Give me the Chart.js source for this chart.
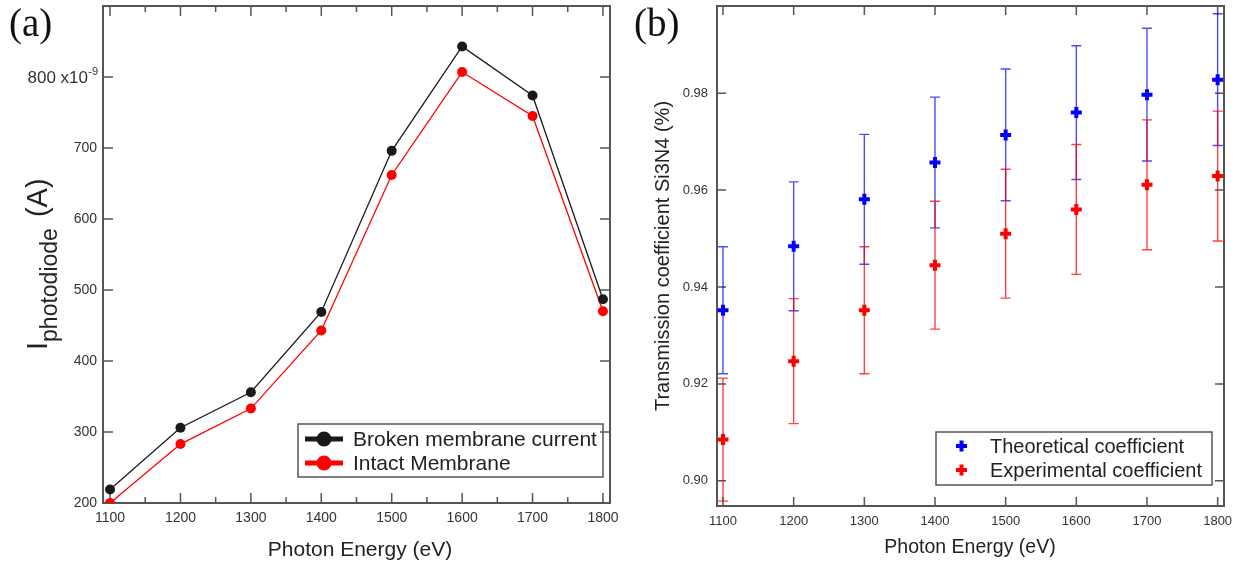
<!DOCTYPE html>
<html>
<head>
<meta charset="utf-8">
<title>Photodiode current and Si3N4 transmission</title>
<script src="https://cdn.jsdelivr.net/npm/chart.js@4.4.1/dist/chart.umd.min.js"></script>
<style>
  html, body { margin: 0; padding: 0; background: #fff; }
  #wrap { position: relative; width: 1239px; height: 566px; }
  .panel { position: absolute; top: 0; height: 566px; }
  #panelA { left: 0; width: 620px; }
  #panelB { left: 620px; width: 619px; }
</style>
</head>
<body>
<div id="wrap">
  <div class="panel" id="panelA"><canvas id="currentChart"></canvas></div>
  <div class="panel" id="panelB"><canvas id="transChart"></canvas></div>
</div>
<script>
// --- Data ---
const energies = [1100, 1200, 1300, 1400, 1500, 1600, 1700, 1800];
const energyTicks = [1100, 1200, 1300, 1400, 1500, 1600, 1700, 1800];
const energyMinorTicks = [1150, 1250, 1350, 1450, 1550, 1650, 1750];

// (a) photodiode current, in units of 1e-9 A
const brokenCurrent = [219, 306, 356, 469, 696, 843, 774, 487];
const intactCurrent = [200, 283, 333, 443, 662, 807, 745, 470];
const currentTicks = [200, 300, 400, 500, 600, 700, 800];
const currentExpTick = 800; // this tick carries the "x10-9" multiplier

// (b) transmission coefficient with error bars
const theoCoef = [0.9352, 0.9484, 0.9581, 0.9657, 0.9714, 0.9760, 0.9797, 0.9828];
const theoErr = [0.0131, 0.0133, 0.0134, 0.0135, 0.0136, 0.0138, 0.0137, 0.0136];
const expCoef = [0.9085, 0.9247, 0.9352, 0.9445, 0.9510, 0.9560, 0.9611, 0.9629];
const expErr = [0.0127, 0.0129, 0.0131, 0.0132, 0.0133, 0.0134, 0.0134, 0.0134];
const coefTicks = [0.90, 0.92, 0.94, 0.96, 0.98];

const SANS = "'Liberation Sans', Arial, sans-serif";
const SERIF = "'Liberation Serif', 'Times New Roman', serif";
const AXIS = '#555';

// --- Closed frame with inward ticks, placed through the chart's scales ---
const framePlugin = {
    id: 'frame',
    beforeDatasetsDraw(chart, args, opts) {
        const { ctx, chartArea: a, scales: { x, y } } = chart;
        ctx.save();
        ctx.strokeStyle = AXIS;
        ctx.lineWidth = 1.5;
        ctx.beginPath();
        const xTick = (v, len) => {
            const px = x.getPixelForValue(v);
            ctx.moveTo(px, a.bottom); ctx.lineTo(px, a.bottom - len);
            ctx.moveTo(px, a.top); ctx.lineTo(px, a.top + len);
        };
        opts.xMajor.forEach(v => xTick(v, opts.major));
        (opts.xMinor || []).forEach(v => xTick(v, opts.minor));
        opts.yMajor.forEach(v => {
            const py = y.getPixelForValue(v);
            ctx.moveTo(a.left, py); ctx.lineTo(a.left + opts.major, py);
            ctx.moveTo(a.right, py); ctx.lineTo(a.right - opts.major, py);
        });
        ctx.stroke();
        ctx.lineWidth = 2;
        ctx.strokeRect(a.left, a.top, a.right - a.left, a.bottom - a.top);
        ctx.restore();
    }
};

// --- Vertical error bars with caps ---
const errorBarPlugin = {
    id: 'errorBars',
    beforeDatasetsDraw(chart) {
        const { ctx, scales: { y } } = chart;
        chart.data.datasets.forEach((ds, i) => {
            if (!ds.errors) return;
            const meta = chart.getDatasetMeta(i);
            ctx.save();
            ctx.strokeStyle = ds.errorColor;
            ctx.lineWidth = 1.4;
            ctx.beginPath();
            meta.data.forEach((pt, j) => {
                const v = ds.data[j].y, e = ds.errors[j];
                const top = y.getPixelForValue(v + e);
                const bot = y.getPixelForValue(v - e);
                ctx.moveTo(pt.x, top); ctx.lineTo(pt.x, bot);
                ctx.moveTo(pt.x - 5, top); ctx.lineTo(pt.x + 5, top);
                ctx.moveTo(pt.x - 5, bot); ctx.lineTo(pt.x + 5, bot);
            });
            ctx.stroke();
            ctx.restore();
        });
    }
};

function fixedAxes(xHeight, yWidth) {
    return {
        xFit: s => { s.height = xHeight; s.paddingLeft = 0; s.paddingRight = 0; },
        yFit: s => { s.width = yWidth; s.paddingTop = 0; s.paddingBottom = 0; }
    };
}

function drawPanelLabel(ctx, text, x, y) {
    ctx.save();
    ctx.fillStyle = '#111';
    ctx.font = '39px ' + SERIF;
    ctx.textBaseline = 'alphabetic';
    ctx.fillText(text, x, y);
    ctx.restore();
}

function drawXTitle(ctx, text, cx, baseline, size) {
    ctx.save();
    ctx.fillStyle = '#222';
    ctx.font = size + 'px ' + SANS;
    ctx.textAlign = 'center';
    ctx.textBaseline = 'alphabetic';
    ctx.fillText(text, cx, baseline);
    ctx.restore();
}

// --- Panel (a): photodiode current ---
const axesA = fixedAxes(63, 103);
const decorA = {
    id: 'decorA',
    afterDraw(chart) {
        const ctx = chart.ctx;
        drawPanelLabel(ctx, '(a)', 9, 36);
        drawXTitle(ctx, 'Photon Energy (eV)', 360, 556, 21);

        // top tick label with the x10^-9 multiplier
        const py = chart.scales.y.getPixelForValue(currentExpTick);
        ctx.save();
        ctx.fillStyle = '#333';
        ctx.textAlign = 'right';
        ctx.textBaseline = 'middle';
        ctx.font = '17px ' + SANS;
        ctx.fillText(currentExpTick + ' x10', 88, py + 1);
        ctx.font = '11px ' + SANS;
        ctx.fillText('-9', 98, py - 5);
        ctx.restore();

        // y title: I with subscript "photodiode", then (A)
        ctx.save();
        ctx.translate(0, 350);
        ctx.rotate(-Math.PI / 2);
        ctx.fillStyle = '#222';
        ctx.textBaseline = 'alphabetic';
        ctx.font = '29px ' + SANS;
        ctx.fillText('I', 0, 47);
        let t = ctx.measureText('I').width;
        ctx.font = '23px ' + SANS;
        ctx.fillText('photodiode', t, 57);
        t += ctx.measureText('photodiode').width;
        ctx.font = '29px ' + SANS;
        ctx.fillText(' (A)', t + 3, 47);
        ctx.restore();

        // legend
        ctx.save();
        ctx.strokeStyle = '#555';
        ctx.lineWidth = 1.5;
        ctx.strokeRect(298, 424, 305, 53);
        const rows = [439, 463];
        chart.data.datasets.forEach((ds, i) => {
            const y = rows[i];
            ctx.strokeStyle = ds.borderColor;
            ctx.fillStyle = ds.borderColor;
            ctx.lineWidth = 5;
            ctx.beginPath();
            ctx.moveTo(305, y); ctx.lineTo(343, y);
            ctx.stroke();
            ctx.beginPath();
            ctx.arc(324, y, 7.5, 0, Math.PI * 2);
            ctx.fill();
            ctx.fillStyle = '#222';
            ctx.font = '21px ' + SANS;
            ctx.textBaseline = 'middle';
            ctx.fillText(ds.label, 353, y + 1);
        });
        ctx.restore();
    }
};

new Chart(document.getElementById('currentChart'), {
    type: 'line',
    data: {
        datasets: [{
            label: 'Broken membrane current',
            data: energies.map((e, i) => ({ x: e, y: brokenCurrent[i] })),
            borderColor: '#1a1a1a',
            backgroundColor: '#1a1a1a',
            borderWidth: 1.3,
            pointRadius: 5,
            pointBorderWidth: 0,
            tension: 0
        }, {
            label: 'Intact Membrane',
            data: energies.map((e, i) => ({ x: e, y: intactCurrent[i] })),
            borderColor: '#ff0000',
            backgroundColor: '#ff0000',
            borderWidth: 1.3,
            pointRadius: 5,
            pointBorderWidth: 0,
            tension: 0
        }]
    },
    options: {
        animation: false,
        responsive: true,
        maintainAspectRatio: false,
        layout: { autoPadding: false, padding: { left: 0, top: 6, right: 10, bottom: 0 } },
        plugins: {
            legend: { display: false },
            tooltip: { enabled: false },
            frame: { xMajor: energyTicks, xMinor: energyMinorTicks, yMajor: currentTicks, major: 10, minor: 6 }
        },
        scales: {
            x: {
                type: 'linear', min: 1090, max: 1810,
                grid: { display: false, drawTicks: false },
                border: { display: false },
                afterBuildTicks: s => { s.ticks = energyTicks.map(v => ({ value: v })); },
                afterFit: axesA.xFit,
                ticks: {
                    padding: 7, color: '#333', autoSkip: false, maxRotation: 0,
                    font: { family: SANS, size: 14 },
                    callback: v => String(v)
                }
            },
            y: {
                type: 'linear', min: 200, max: 900,
                grid: { display: false, drawTicks: false },
                border: { display: false },
                afterBuildTicks: s => { s.ticks = currentTicks.map(v => ({ value: v })); },
                afterFit: axesA.yFit,
                ticks: {
                    padding: 6, color: '#333', font: { family: SANS, size: 14 },
                    callback: v => v === currentExpTick ? '' : String(v)
                }
            }
        }
    },
    plugins: [framePlugin, decorA]
});

// --- Panel (b): transmission coefficient ---
const axesB = fixedAxes(60, 97);
const decorB = {
    id: 'decorB',
    afterDraw(chart) {
        const ctx = chart.ctx;
        drawPanelLabel(ctx, '(b)', 14, 36);
        drawXTitle(ctx, 'Photon Energy (eV)', 350, 553, 19.5);

        ctx.save();
        ctx.translate(49, 256);
        ctx.rotate(-Math.PI / 2);
        ctx.fillStyle = '#222';
        ctx.font = '20px ' + SANS;
        ctx.textAlign = 'center';
        ctx.textBaseline = 'alphabetic';
        ctx.fillText('Transmission coefficient Si3N4 (%)', 0, 0);
        ctx.restore();

        // legend
        ctx.save();
        ctx.strokeStyle = '#555';
        ctx.lineWidth = 1.5;
        ctx.strokeRect(316, 432, 276, 53);
        const rows = [446, 470];
        chart.data.datasets.forEach((ds, i) => {
            const y = rows[i];
            ctx.strokeStyle = ds.borderColor;
            ctx.lineWidth = 4;
            ctx.beginPath();
            ctx.moveTo(336, y); ctx.lineTo(347, y);
            ctx.moveTo(341.5, y - 5.5); ctx.lineTo(341.5, y + 5.5);
            ctx.stroke();
            ctx.fillStyle = '#222';
            ctx.font = '20px ' + SANS;
            ctx.textBaseline = 'middle';
            ctx.fillText(ds.label, 370, y + 1);
        });
        ctx.restore();
    }
};

new Chart(document.getElementById('transChart'), {
    type: 'scatter',
    data: {
        datasets: [{
            label: 'Theoretical coefficient',
            data: energies.map((e, i) => ({ x: e, y: theoCoef[i] })),
            errors: theoErr,
            errorColor: 'rgba(0, 0, 255, 0.7)',
            borderColor: '#0000ff',
            backgroundColor: '#0000ff',
            pointStyle: 'cross',
            pointRadius: 5.5,
            pointBorderWidth: 4,
            showLine: false
        }, {
            label: 'Experimental coefficient',
            data: energies.map((e, i) => ({ x: e, y: expCoef[i] })),
            errors: expErr,
            errorColor: 'rgba(255, 0, 0, 0.75)',
            borderColor: '#ff0000',
            backgroundColor: '#ff0000',
            pointStyle: 'cross',
            pointRadius: 5.5,
            pointBorderWidth: 4,
            showLine: false
        }]
    },
    options: {
        animation: false,
        responsive: true,
        maintainAspectRatio: false,
        layout: { autoPadding: false, padding: { left: 0, top: 6, right: 15, bottom: 0 } },
        plugins: {
            legend: { display: false },
            tooltip: { enabled: false },
            frame: { xMajor: energyTicks, yMajor: coefTicks, major: 9, minor: 6 }
        },
        scales: {
            x: {
                type: 'linear', min: 1091.5, max: 1809,
                grid: { display: false, drawTicks: false },
                border: { display: false },
                afterBuildTicks: s => { s.ticks = energyTicks.map(v => ({ value: v })); },
                afterFit: axesB.xFit,
                ticks: {
                    padding: 8, color: '#333', autoSkip: false, maxRotation: 0,
                    font: { family: SANS, size: 13 },
                    callback: v => String(v)
                }
            },
            y: {
                type: 'linear', min: 0.8948, max: 0.998,
                grid: { display: false, drawTicks: false },
                border: { display: false },
                afterBuildTicks: s => { s.ticks = coefTicks.map(v => ({ value: v })); },
                afterFit: axesB.yFit,
                ticks: {
                    padding: 9, color: '#333', font: { family: SANS, size: 13 },
                    callback: v => v.toFixed(2)
                }
            }
        }
    },
    plugins: [framePlugin, errorBarPlugin, decorB]
});
</script>
</body>
</html>
